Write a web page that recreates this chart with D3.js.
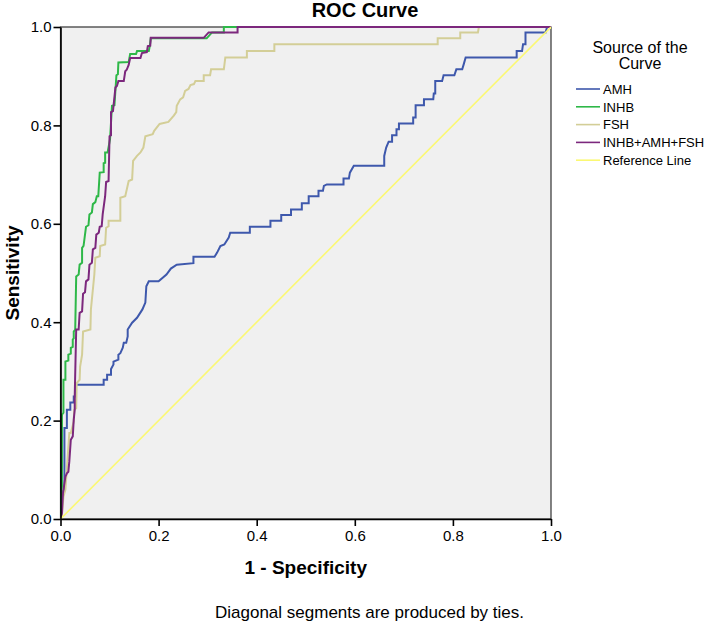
<!DOCTYPE html>
<html>
<head>
<meta charset="utf-8">
<script src="https://cdn.jsdelivr.net/npm/d3@7"></script>
<style>
  html, body { margin: 0; padding: 0; background: #ffffff; }
  svg { display: block; font-family: "Liberation Sans", Arial, sans-serif; }
</style>
</head>
<body>
<svg id="chart" width="709" height="623"></svg>
<script>
// ---------- data ----------
const seriesNames = ["AMH", "INHB", "FSH", "INHB+AMH+FSH", "Reference Line"];
const seriesColors = ["#3E58AC", "#2EB848", "#D3CE97", "#7C287D", "#FBF873"];
const tickValues = [0.0, 0.2, 0.4, 0.6, 0.8, 1.0];

const amhFpr = [0,0,0.008,0.008,0.013,0.013,0.02,0.02,0.027,0.027,0.031,0.031,0.088,0.088,0.095,0.095,0.103,0.103,0.108,0.108,0.118,0.118,0.122,0.127,0.129,0.134,0.137,0.137,0.146,0.156,0.167,0.173,0.175,0.18,0.2,0.216,0.225,0.237,0.271,0.271,0.314,0.319,0.326,0.334,0.343,0.346,0.386,0.386,0.428,0.428,0.45,0.45,0.47,0.47,0.492,0.492,0.506,0.506,0.526,0.526,0.535,0.537,0.543,0.577,0.577,0.588,0.59,0.598,0.66,0.66,0.664,0.669,0.676,0.676,0.685,0.685,0.69,0.69,0.719,0.719,0.724,0.724,0.741,0.741,0.76,0.761,0.764,0.764,0.778,0.781,0.803,0.807,0.819,0.822,0.826,0.93,0.93,0.941,0.943,0.948,0.948,0.989,0.992,1];
const amhTpr = [0,0.05,0.06,0.185,0.185,0.222,0.222,0.237,0.237,0.249,0.249,0.273,0.273,0.283,0.283,0.293,0.293,0.305,0.314,0.32,0.324,0.334,0.337,0.348,0.358,0.358,0.371,0.385,0.399,0.409,0.426,0.44,0.473,0.483,0.483,0.497,0.509,0.517,0.52,0.533,0.533,0.541,0.555,0.558,0.572,0.582,0.582,0.594,0.594,0.606,0.606,0.618,0.618,0.629,0.629,0.642,0.642,0.656,0.656,0.667,0.667,0.677,0.68,0.68,0.692,0.692,0.704,0.718,0.718,0.738,0.755,0.767,0.767,0.78,0.78,0.792,0.792,0.804,0.804,0.816,0.816,0.841,0.841,0.853,0.853,0.865,0.865,0.89,0.89,0.902,0.902,0.914,0.914,0.924,0.938,0.938,0.951,0.951,0.965,0.965,0.989,0.989,1,1];

const inhbFpr = [0,0,0.003,0.003,0.006,0.006,0.01,0.01,0.016,0.016,0.021,0.021,0.025,0.025,0.027,0.027,0.03,0.032,0.037,0.039,0.044,0.044,0.047,0.052,0.057,0.059,0.064,0.066,0.071,0.074,0.077,0.08,0.088,0.088,0.091,0.091,0.096,0.101,0.105,0.11,0.114,0.117,0.118,0.139,0.142,0.154,0.156,0.18,0.182,0.184,0.298,0.309,0.333,0.333,1];
const inhbTpr = [0,0.04,0.066,0.212,0.216,0.283,0.283,0.32,0.322,0.334,0.336,0.348,0.35,0.365,0.367,0.381,0.385,0.493,0.497,0.517,0.521,0.551,0.555,0.594,0.597,0.619,0.623,0.64,0.644,0.656,0.656,0.704,0.705,0.723,0.724,0.745,0.745,0.772,0.84,0.841,0.902,0.904,0.928,0.929,0.945,0.945,0.951,0.951,0.961,0.977,0.977,0.989,0.989,1,1];

const fshFpr = [0,0.003,0.006,0.01,0.018,0.021,0.027,0.028,0.032,0.033,0.039,0.04,0.044,0.046,0.061,0.062,0.069,0.071,0.08,0.081,0.091,0.093,0.098,0.098,0.122,0.122,0.132,0.139,0.146,0.148,0.156,0.163,0.169,0.173,0.188,0.191,0.202,0.22,0.231,0.236,0.237,0.244,0.25,0.254,0.261,0.265,0.272,0.275,0.292,0.292,0.305,0.307,0.333,0.336,0.38,0.38,0.436,0.436,0.769,0.769,0.815,0.815,0.851,0.853,1];
const fshTpr = [0,0.01,0.045,0.06,0.175,0.175,0.198,0.222,0.225,0.276,0.283,0.31,0.334,0.381,0.385,0.426,0.497,0.531,0.534,0.555,0.558,0.592,0.595,0.606,0.606,0.653,0.656,0.687,0.69,0.728,0.738,0.745,0.755,0.778,0.782,0.789,0.803,0.807,0.82,0.827,0.84,0.853,0.857,0.87,0.874,0.882,0.884,0.89,0.89,0.902,0.902,0.914,0.914,0.938,0.938,0.951,0.951,0.965,0.965,0.977,0.977,0.989,0.989,1,1];

const comboFpr = [0,0.003,0.005,0.01,0.013,0.016,0.018,0.021,0.025,0.027,0.029,0.029,0.032,0.037,0.039,0.044,0.046,0.05,0.052,0.057,0.059,0.064,0.066,0.071,0.073,0.078,0.08,0.084,0.086,0.091,0.093,0.098,0.1,0.103,0.103,0.107,0.112,0.115,0.118,0.129,0.132,0.135,0.139,0.142,0.163,0.166,0.176,0.178,0.183,0.184,0.292,0.302,0.361,0.361,1];
const comboTpr = [0,0.012,0.052,0.086,0.093,0.096,0.117,0.161,0.168,0.202,0.222,0.249,0.385,0.385,0.419,0.422,0.458,0.461,0.483,0.487,0.517,0.521,0.548,0.551,0.578,0.582,0.594,0.595,0.619,0.656,0.685,0.687,0.778,0.78,0.827,0.829,0.877,0.88,0.89,0.89,0.91,0.913,0.923,0.937,0.937,0.947,0.949,0.961,0.962,0.978,0.978,0.989,0.989,1,1];

const refFpr = [0, 1];
const refTpr = [0, 1];

const seriesFpr = [amhFpr, inhbFpr, fshFpr, comboFpr, refFpr];
const seriesTpr = [amhTpr, inhbTpr, fshTpr, comboTpr, refTpr];

// ---------- layout ----------
const plot = { left: 60.5, right: 551, top: 27, bottom: 519 };
const svg = d3.select("#chart");

const x = d3.scaleLinear().domain([0, 1]).range([plot.left, plot.right]);
const y = d3.scaleLinear().domain([0, 1]).range([plot.bottom, plot.top]);

// plot background
svg.append("rect")
  .attr("x", plot.left).attr("y", plot.top)
  .attr("width", plot.right - plot.left).attr("height", plot.bottom - plot.top)
  .attr("fill", "#F0F0F0").attr("stroke", "#333").attr("stroke-width", 1.2);

// curves
const line = d3.line().x(d => x(d[0])).y(d => y(d[1]));
const clip = svg.append("clipPath").attr("id", "clip").append("rect")
  .attr("x", plot.left).attr("y", plot.top - 1)
  .attr("width", plot.right - plot.left).attr("height", plot.bottom - plot.top + 1);

const g = svg.append("g").attr("clip-path", "url(#clip)");
seriesNames.forEach((name, i) => {
  const pts = seriesFpr[i].map((v, k) => [v, seriesTpr[i][k]]);
  g.append("path")
    .datum(pts)
    .attr("d", line)
    .attr("fill", "none")
    .attr("stroke", seriesColors[i])
    .attr("stroke-width", i === 4 ? 1.6 : 2)
    .attr("stroke-linejoin", "miter");
});

// axes
const fmt = d3.format(".1f");
const xAxis = svg.append("g")
  .attr("transform", `translate(0,${plot.bottom})`)
  .call(d3.axisBottom(x).tickValues(tickValues).tickFormat(fmt).tickSize(7).tickSizeOuter(0));
const yAxis = svg.append("g")
  .attr("transform", `translate(${plot.left},0)`)
  .call(d3.axisLeft(y).tickValues(tickValues).tickFormat(fmt).tickSize(7).tickSizeOuter(0));

[xAxis, yAxis].forEach(a => {
  a.select(".domain").attr("stroke", "#000").attr("stroke-width", 1.6);
  a.selectAll(".tick line").attr("stroke", "#000").attr("stroke-width", 1.6);
  a.selectAll(".tick text")
    .attr("fill", "#000")
    .style("font-family", "'Liberation Sans', Arial, sans-serif")
    .style("font-size", "15px");
});
xAxis.selectAll(".tick text").attr("y", 11);
yAxis.selectAll(".tick text").attr("x", -9);

// title
svg.append("text")
  .attr("x", 365).attr("y", 17)
  .attr("text-anchor", "middle")
  .style("font-size", "20px").style("font-weight", "bold")
  .text("ROC Curve");

// axis titles
svg.append("text")
  .attr("x", (plot.left + plot.right) / 2).attr("y", 574)
  .attr("text-anchor", "middle")
  .style("font-size", "19px").style("font-weight", "bold")
  .text("1 - Specificity");

svg.append("text")
  .attr("transform", `translate(19,${(plot.top + plot.bottom) / 2}) rotate(-90)`)
  .attr("text-anchor", "middle")
  .style("font-size", "19px").style("font-weight", "bold")
  .text("Sensitivity");

// footnote
svg.append("text")
  .attr("x", 215).attr("y", 618)
  .style("font-size", "17px")
  .text("Diagonal segments are produced by ties.");

// legend
svg.append("text")
  .attr("x", 640).attr("y", 53)
  .attr("text-anchor", "middle")
  .style("font-size", "16px")
  .text("Source of the");
svg.append("text")
  .attr("x", 640).attr("y", 69)
  .attr("text-anchor", "middle")
  .style("font-size", "16px")
  .text("Curve");

const legend = svg.append("g");
seriesNames.forEach((name, i) => {
  const ly = 89 + i * 17.8;
  legend.append("line")
    .attr("x1", 576).attr("x2", 600)
    .attr("y1", ly).attr("y2", ly)
    .attr("stroke", seriesColors[i]).attr("stroke-width", 1.6);
  legend.append("text")
    .attr("x", 603).attr("y", ly + 4.7)
    .style("font-size", "13px")
    .text(name);
});
</script>
</body>
</html>
